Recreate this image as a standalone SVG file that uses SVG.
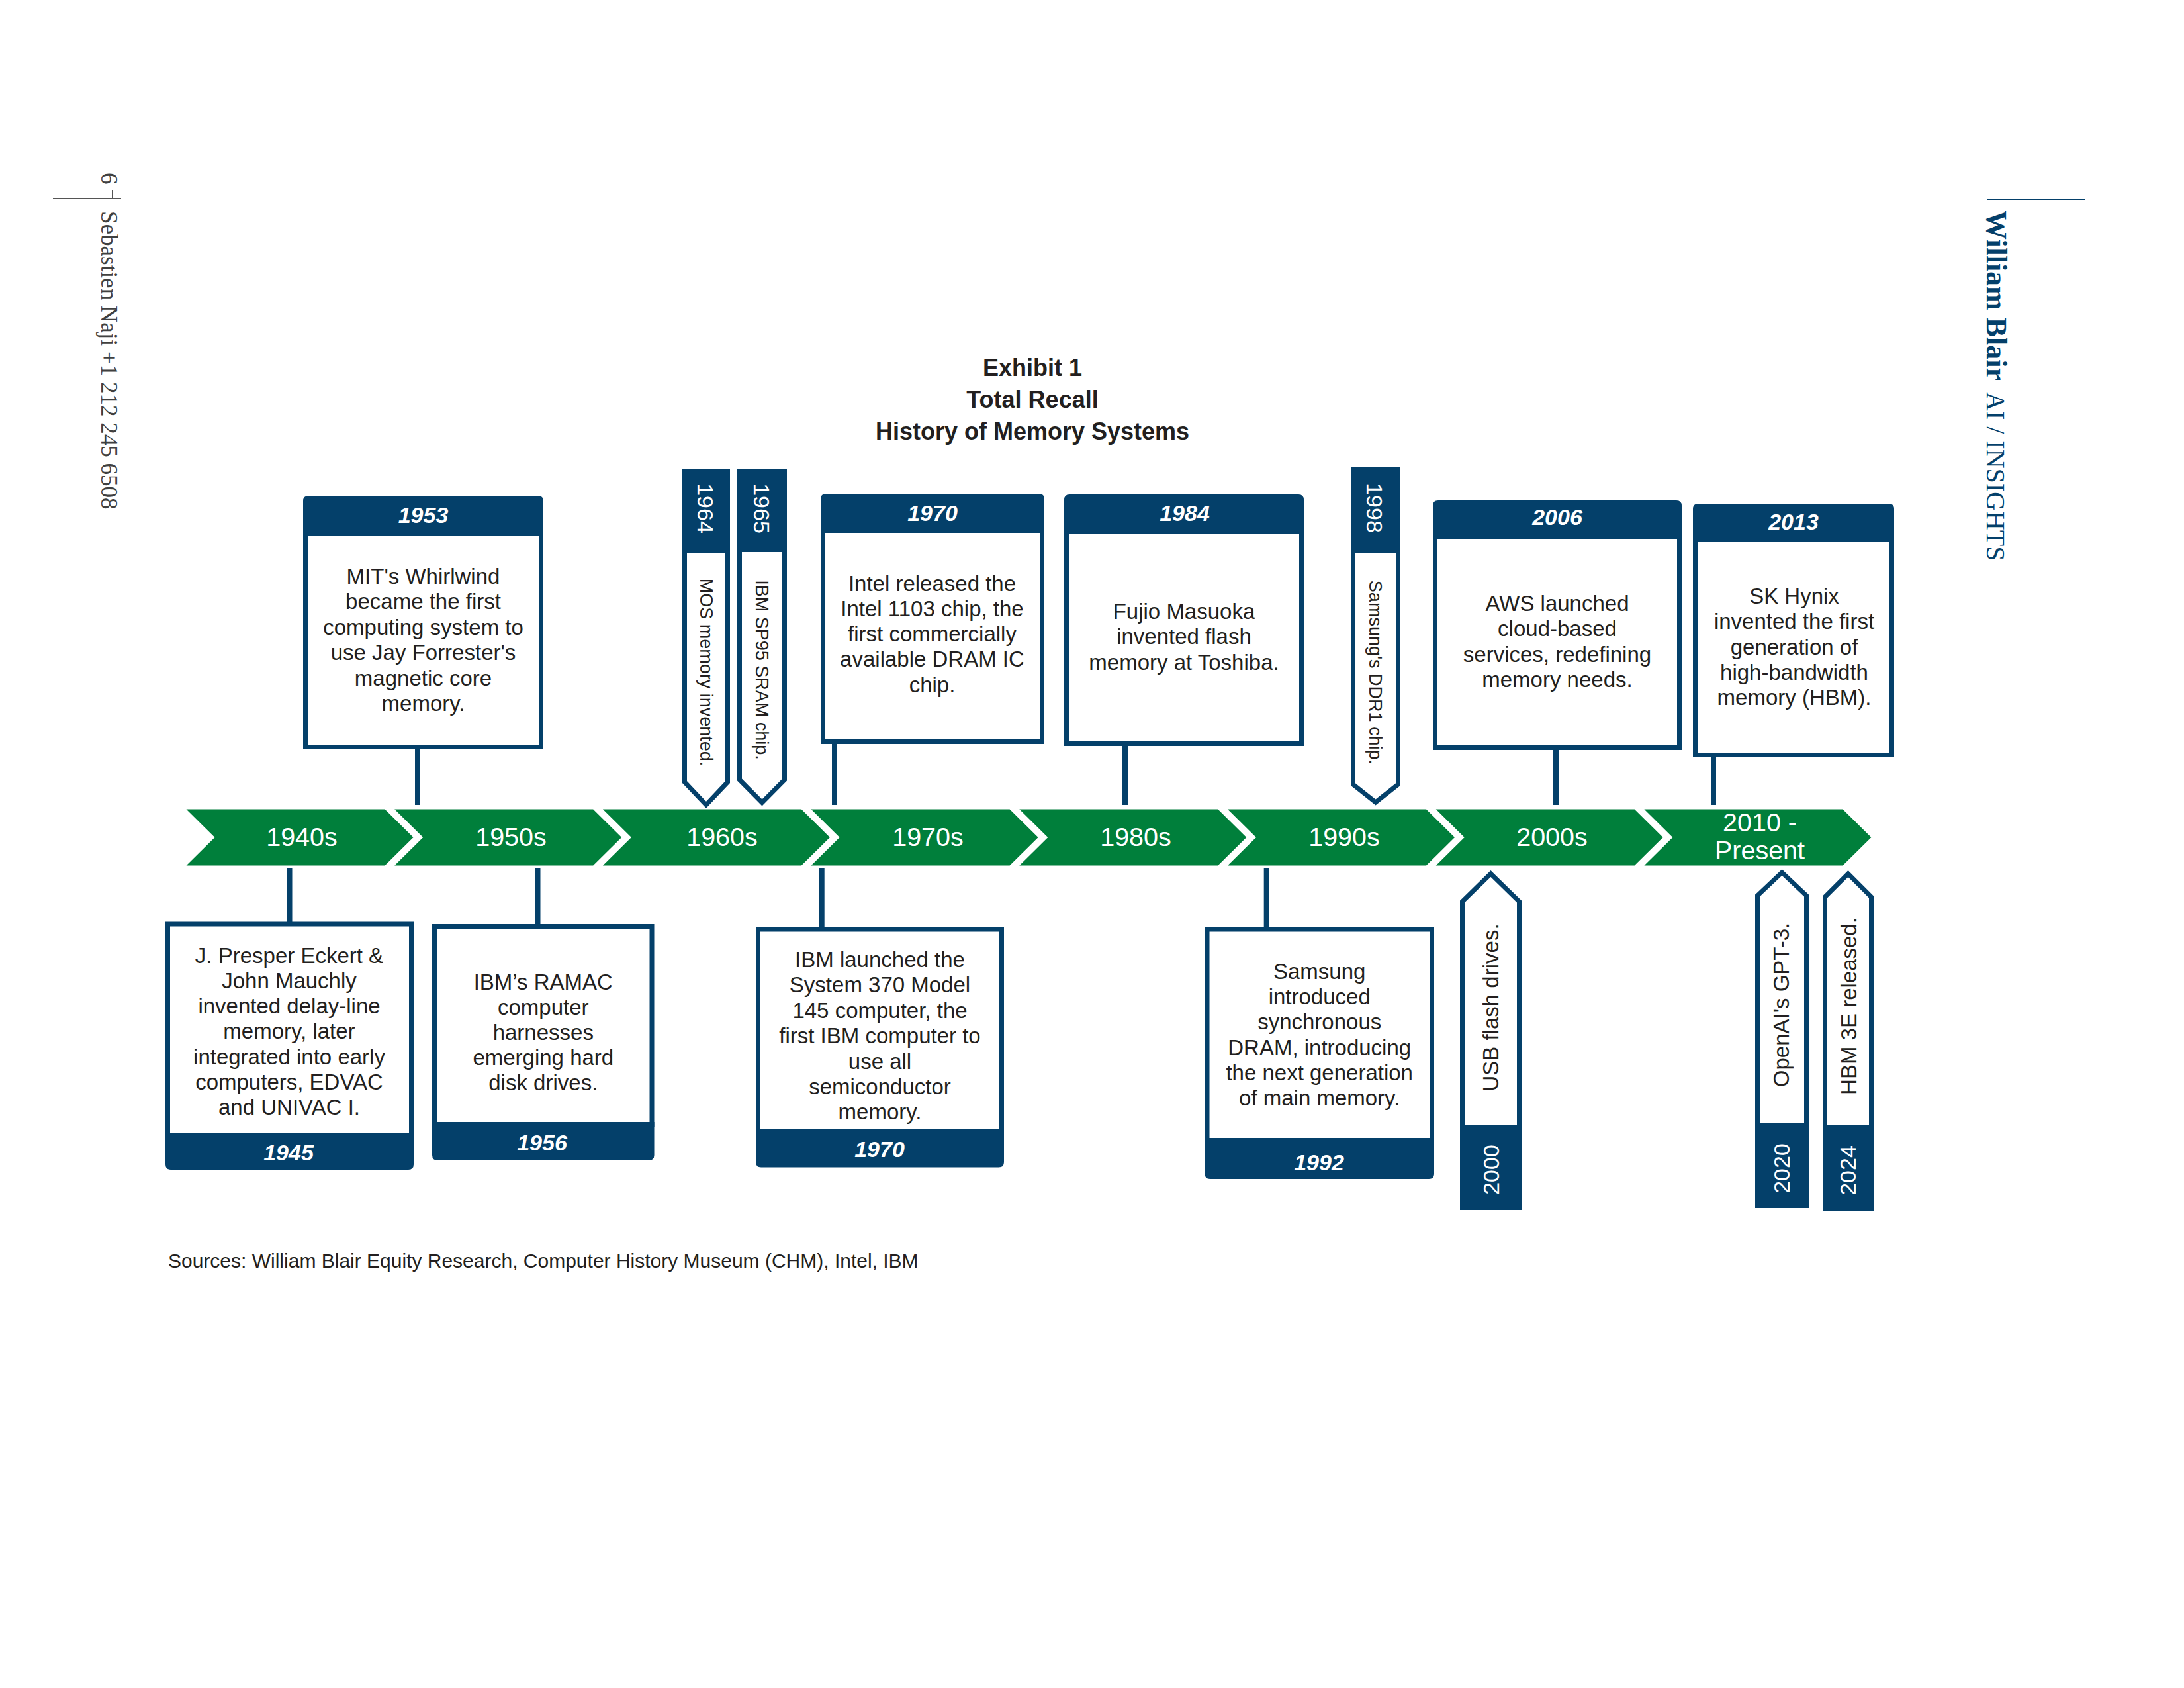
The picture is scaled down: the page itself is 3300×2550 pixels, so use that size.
<svg xmlns="http://www.w3.org/2000/svg" width="3300" height="2550" viewBox="0 0 3300 2550">
<style>
.bg{fill:#ffffff}
.box{fill:#ffffff;stroke:#04406a;stroke-width:7}
.nv{fill:#04406a}
.conn{stroke:#04406a;stroke-width:8;fill:none}
.chev{fill:#007f3b}
.body{font-family:"Liberation Sans",Arial,sans-serif;font-size:33px;fill:#231f20;text-anchor:middle}
.yr{font-family:"Liberation Sans",Arial,sans-serif;font-size:34px;font-weight:bold;font-style:italic;fill:#ffffff;text-anchor:middle}
.dec{font-family:"Liberation Sans",Arial,sans-serif;font-size:39.5px;fill:#ffffff;text-anchor:middle}
.tagt{font-family:"Liberation Sans",Arial,sans-serif;font-size:27px;fill:#231f20;text-anchor:middle}
.btagt{font-family:"Liberation Sans",Arial,sans-serif;font-size:33px;fill:#231f20;text-anchor:middle}
.tagy{font-family:"Liberation Sans",Arial,sans-serif;font-size:34px;fill:#ffffff;text-anchor:middle}
.title{font-family:"Liberation Sans",Arial,sans-serif;font-size:36px;font-weight:bold;fill:#231f20;text-anchor:middle}
.src{font-family:"Liberation Sans",Arial,sans-serif;font-size:30px;fill:#231f20}
.side{font-family:"Liberation Serif","Times New Roman",serif;font-size:35px;fill:#404040}
.brand{font-family:"Liberation Serif","Times New Roman",serif;fill:#04406a}
</style>
<rect class="bg" x="0" y="0" width="3300" height="2550"/>

<!-- side texts -->
<g id="page-footer">
  <text class="side" transform="translate(153,261) rotate(90)">6</text>
  <line x1="170" y1="287" x2="170" y2="300" stroke="#555555" stroke-width="2"/>
  <line x1="80" y1="300" x2="183" y2="300" stroke="#555555" stroke-width="2"/>
  <text class="side" transform="translate(153,319) rotate(90)">Sebastien Naji +1 212 245 6508</text>
</g>
<g id="page-header">
  <line x1="3003" y1="301" x2="3150" y2="301" stroke="#04406a" stroke-width="2"/>
  <text class="brand" font-size="44" font-weight="bold" transform="translate(3002,318) rotate(90)">William Blair</text>
  <text class="brand" font-size="40" transform="translate(3002,592) rotate(90)">AI / INSIGHTS</text>
</g>

<!-- title -->
<g id="title">
  <text class="title" x="1560" y="568">Exhibit 1</text>
  <text class="title" x="1560" y="616">Total Recall</text>
  <text class="title" x="1560" y="664">History of Memory Systems</text>
</g>

<!-- timeline chevrons -->
<g id="timeline">
  <g id="dec-1940s"><polygon class="chev" points="281.5,1222.5 581.5,1222.5 624.5,1265 581.5,1307.5 281.5,1307.5 324.5,1265"/><text class="dec" x="456" y="1278">1940s</text></g>
  <g id="dec-1950s"><polygon class="chev" points="596.2,1222.5 896.2,1222.5 939.2,1265 896.2,1307.5 596.2,1307.5 639.2,1265"/><text class="dec" x="772" y="1278">1950s</text></g>
  <g id="dec-1960s"><polygon class="chev" points="910.9,1222.5 1210.9,1222.5 1253.9,1265 1210.9,1307.5 910.9,1307.5 953.9,1265"/><text class="dec" x="1091" y="1278">1960s</text></g>
  <g id="dec-1970s"><polygon class="chev" points="1225.6,1222.5 1525.6,1222.5 1568.6,1265 1525.6,1307.5 1225.6,1307.5 1268.6,1265"/><text class="dec" x="1402" y="1278">1970s</text></g>
  <g id="dec-1980s"><polygon class="chev" points="1540.3,1222.5 1840.3,1222.5 1883.3,1265 1840.3,1307.5 1540.3,1307.5 1583.3,1265"/><text class="dec" x="1716" y="1278">1980s</text></g>
  <g id="dec-1990s"><polygon class="chev" points="1855,1222.5 2155,1222.5 2198,1265 2155,1307.5 1855,1307.5 1898,1265"/><text class="dec" x="2031" y="1278">1990s</text></g>
  <g id="dec-2000s"><polygon class="chev" points="2169.7,1222.5 2469.7,1222.5 2512.7,1265 2469.7,1307.5 2169.7,1307.5 2212.7,1265"/><text class="dec" x="2345" y="1278">2000s</text></g>
  <g id="dec-2010s"><polygon class="chev" points="2484.4,1222.5 2784.4,1222.5 2827.4,1265 2784.4,1307.5 2484.4,1307.5 2527.4,1265"/><text class="dec" x="2659" y="1256">2010 -</text><text class="dec" x="2659" y="1298">Present</text></g>
</g>

<!-- connectors -->
<g id="connectors">
  <line class="conn" x1="631" y1="1130" x2="631" y2="1216"/>
  <line class="conn" x1="1261" y1="1122" x2="1261" y2="1216"/>
  <line class="conn" x1="1700" y1="1125" x2="1700" y2="1216"/>
  <line class="conn" x1="2351" y1="1131" x2="2351" y2="1216"/>
  <line class="conn" x1="2589" y1="1142" x2="2589" y2="1216"/>
  <line class="conn" x1="437.5" y1="1312" x2="437.5" y2="1395"/>
  <line class="conn" x1="812.5" y1="1312" x2="812.5" y2="1398"/>
  <line class="conn" x1="1241.7" y1="1312" x2="1241.7" y2="1403"/>
  <line class="conn" x1="1913.7" y1="1312" x2="1913.7" y2="1403"/>
</g>

<!-- top boxes -->
<g id="ev-1953">
  <rect class="box" x="461.5" y="804.5" width="356" height="324"/>
  <path class="nv" d="M458,810 V757 Q458,749 466,749 H813 Q821,749 821,757 V810 Z"/>
  <text class="yr" x="639.5" y="790">1953</text>
  <text class="body"><tspan x="639.5" y="881.8">MIT's Whirlwind</tspan><tspan x="639.5" dy="38.5">became the first</tspan><tspan x="639.5" dy="38.5">computing system to</tspan><tspan x="639.5" dy="38.5">use Jay Forrester's</tspan><tspan x="639.5" dy="38.5">magnetic core</tspan><tspan x="639.5" dy="38.5">memory.</tspan></text>
</g>
<g id="ev-1970-top">
  <rect class="box" x="1243.5" y="799.5" width="331" height="321"/>
  <path class="nv" d="M1240,805 V754 Q1240,746 1248,746 H1570 Q1578,746 1578,754 V805 Z"/>
  <text class="yr" x="1409" y="787">1970</text>
  <text class="body"><tspan x="1408.5" y="892.5">Intel released the</tspan><tspan x="1408.5" dy="38.3">Intel 1103 chip, the</tspan><tspan x="1408.5" dy="38.3">first commercially</tspan><tspan x="1408.5" dy="38.3">available DRAM IC</tspan><tspan x="1408.5" dy="38.3">chip.</tspan></text>
</g>
<g id="ev-1984">
  <rect class="box" x="1611.5" y="801.5" width="355" height="322"/>
  <path class="nv" d="M1608,807 V755 Q1608,747 1616,747 H1962 Q1970,747 1970,755 V807 Z"/>
  <text class="yr" x="1790" y="787">1984</text>
  <text class="body"><tspan x="1789" y="935">Fujio Masuoka</tspan><tspan x="1789" dy="38.3">invented flash</tspan><tspan x="1789" dy="38.3">memory at Toshiba.</tspan></text>
</g>
<g id="ev-2006">
  <rect class="box" x="2168.5" y="809.5" width="369" height="320"/>
  <path class="nv" d="M2165,815 V764 Q2165,756 2173,756 H2533 Q2541,756 2541,764 V815 Z"/>
  <text class="yr" x="2353" y="793">2006</text>
  <text class="body"><tspan x="2353" y="923">AWS launched</tspan><tspan x="2353" dy="38.3">cloud-based</tspan><tspan x="2353" dy="38.3">services, redefining</tspan><tspan x="2353" dy="38.3">memory needs.</tspan></text>
</g>
<g id="ev-2013">
  <rect class="box" x="2561.5" y="813.5" width="297" height="327"/>
  <path class="nv" d="M2558,819 V769 Q2558,761 2566,761 H2854 Q2862,761 2862,769 V819 Z"/>
  <text class="yr" x="2710" y="800">2013</text>
  <text class="body"><tspan x="2711" y="912">SK Hynix</tspan><tspan x="2711" dy="38.3">invented the first</tspan><tspan x="2711" dy="38.3">generation of</tspan><tspan x="2711" dy="38.3">high-bandwidth</tspan><tspan x="2711" dy="38.3">memory (HBM).</tspan></text>
</g>

<!-- top tags -->
<g id="ev-1964">
  <polygon class="box" points="1034.5,832 1099.5,832 1099.5,1181.5 1067,1216 1034.5,1181.5"/>
  <rect class="nv" x="1031" y="708" width="72" height="128"/>
  <text class="tagy" transform="translate(1054,768) rotate(90)">1964</text>
  <text class="tagt" transform="translate(1058,1015.5) rotate(90)">MOS memory invented.</text>
</g>
<g id="ev-1965">
  <polygon class="box" points="1117.5,830 1185.5,830 1185.5,1178 1151.5,1212.5 1117.5,1178"/>
  <rect class="nv" x="1114" y="708" width="75" height="126"/>
  <text class="tagy" transform="translate(1139,768) rotate(90)">1965</text>
  <text class="tagt" transform="translate(1142,1012) rotate(90)">IBM SP95 SRAM chip.</text>
</g>
<g id="ev-1998">
  <polygon class="box" points="2044.5,832 2112.5,832 2112.5,1185 2078.5,1212 2044.5,1185"/>
  <rect class="nv" x="2041" y="706" width="75" height="130"/>
  <text class="tagy" transform="translate(2065,767) rotate(90)">1998</text>
  <text class="tagt" transform="translate(2069,1016) rotate(90)">Samsung's DDR1 chip.</text>
</g>

<!-- bottom boxes -->
<g id="ev-1945">
  <rect class="box" x="253.5" y="1396" width="368" height="320"/>
  <path class="nv" d="M250,1712 H625 V1759 Q625,1767 617,1767 H258 Q250,1767 250,1759 Z"/>
  <text class="yr" x="436" y="1753">1945</text>
  <text class="body"><tspan x="437" y="1454.5">J. Presper Eckert &amp;</tspan><tspan x="437" dy="38.3">John Mauchly</tspan><tspan x="437" dy="38.3">invented delay-line</tspan><tspan x="437" dy="38.3">memory, later</tspan><tspan x="437" dy="38.3">integrated into early</tspan><tspan x="437" dy="38.3">computers, EDVAC</tspan><tspan x="437" dy="38.3">and UNIVAC I.</tspan></text>
</g>
<g id="ev-1956">
  <rect class="box" x="656.5" y="1399.5" width="328.5" height="300"/>
  <path class="nv" d="M653,1695 H988.5 V1745 Q988.5,1753 980.5,1753 H661 Q653,1753 653,1745 Z"/>
  <text class="yr" x="819" y="1738">1956</text>
  <text class="body"><tspan x="820.8" y="1494.7">IBM’s RAMAC</tspan><tspan x="820.8" dy="38.1">computer</tspan><tspan x="820.8" dy="38.1">harnesses</tspan><tspan x="820.8" dy="38.1">emerging hard</tspan><tspan x="820.8" dy="38.1">disk drives.</tspan></text>
</g>
<g id="ev-1970-bottom">
  <rect class="box" x="1145.5" y="1404" width="368" height="306"/>
  <path class="nv" d="M1142,1705 H1517 V1755.5 Q1517,1763.5 1509,1763.5 H1150 Q1142,1763.5 1142,1755.5 Z"/>
  <text class="yr" x="1329" y="1748">1970</text>
  <text class="body"><tspan x="1329.5" y="1461">IBM launched the</tspan><tspan x="1329.5" dy="38.4">System 370 Model</tspan><tspan x="1329.5" dy="38.4">145 computer, the</tspan><tspan x="1329.5" dy="38.4">first IBM computer to</tspan><tspan x="1329.5" dy="38.4">use all</tspan><tspan x="1329.5" dy="38.4">semiconductor</tspan><tspan x="1329.5" dy="38.4">memory.</tspan></text>
</g>
<g id="ev-1992">
  <rect class="box" x="1824" y="1404" width="339.5" height="320"/>
  <path class="nv" d="M1820.5,1719 H2167 V1773 Q2167,1781 2159,1781 H1828.5 Q1820.5,1781 1820.5,1773 Z"/>
  <text class="yr" x="1993" y="1767.5">1992</text>
  <text class="body"><tspan x="1993.7" y="1478.8">Samsung</tspan><tspan x="1993.7" dy="38.3">introduced</tspan><tspan x="1993.7" dy="38.3">synchronous</tspan><tspan x="1993.7" dy="38.3">DRAM, introducing</tspan><tspan x="1993.7" dy="38.3">the next generation</tspan><tspan x="1993.7" dy="38.3">of main memory.</tspan></text>
</g>

<!-- bottom tags -->
<g id="ev-2000">
  <polygon class="box" points="2209.5,1706 2209.5,1362 2252.5,1320 2295.5,1362 2295.5,1706"/>
  <rect class="nv" x="2206" y="1700" width="93" height="128"/>
  <text class="btagt" transform="translate(2264,1522) rotate(-90)">USB flash drives.</text>
  <text class="tagy" transform="translate(2265,1767) rotate(-90)">2000</text>
</g>
<g id="ev-2020">
  <polygon class="box" points="2655.5,1703 2655.5,1353 2692.5,1318 2729.5,1353 2729.5,1703"/>
  <rect class="nv" x="2652" y="1697" width="81" height="128"/>
  <text class="btagt" transform="translate(2703,1518) rotate(-90)">OpenAI's GPT-3.</text>
  <text class="tagy" transform="translate(2704,1765) rotate(-90)">2020</text>
</g>
<g id="ev-2024">
  <polygon class="box" points="2757.5,1706 2757.5,1355 2792.5,1320 2827.5,1355 2827.5,1706"/>
  <rect class="nv" x="2754" y="1700" width="77" height="129"/>
  <text class="btagt" transform="translate(2805,1520) rotate(-90)">HBM 3E released.</text>
  <text class="tagy" transform="translate(2804,1768) rotate(-90)">2024</text>
</g>

<g id="sources">
  <text class="src" x="254" y="1915">Sources: William Blair Equity Research, Computer History Museum (CHM), Intel, IBM</text>
</g>
</svg>
